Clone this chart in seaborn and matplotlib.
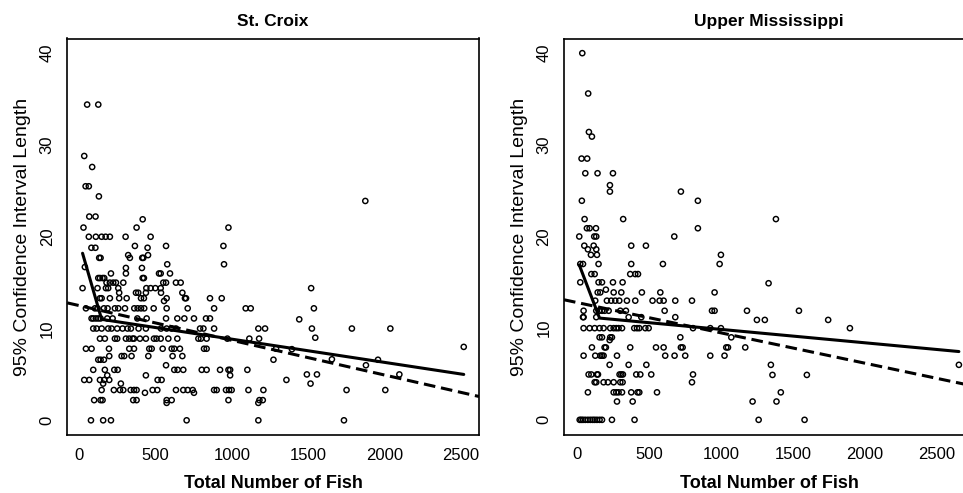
import matplotlib
matplotlib.use("Agg")
import matplotlib.pyplot as plt
import seaborn as sns
import pandas as pd

# ---------------- data ----------------
titles = ["St. Croix", "Upper Mississippi"]
x_label = "Total Number of Fish"
y_label = "95% Confidence Interval Length"
x_ticks = [0, 500, 1000, 1500, 2000, 2500]
y_ticks = [0, 10, 20, 30, 40]

sc_fish = [
    52, 125, 33, 85, 42, 63, 129, 66, 107, 416, 28, 376, 978, 1875,
    63, 109, 147, 173, 201, 304, 468,
    80, 106, 365, 448, 569, 945,
    131, 140, 321, 332, 413, 420, 451,
    577, 949,
    37, 306, 411,
    208, 306, 523, 534, 595,
    125, 136, 153, 164, 416, 424,
    179, 201, 223, 241, 289, 551, 569, 634, 665,
    22, 120, 175, 190, 256, 440, 468, 499, 534,
    262, 372, 387, 437, 536, 676,
    136, 147, 201, 262, 311, 405, 424, 556, 573, 693, 700, 857, 934,
    44, 103, 120, 162, 186, 234, 256, 300, 361, 383, 405, 426, 488, 573, 711, 884, 1091, 1124,
    81, 92, 109, 125, 140, 184, 219, 381, 442, 569, 643, 689, 752, 831, 857,
    92, 114, 147, 190, 212, 249, 284, 317, 339, 389, 437, 536, 573, 606, 634, 792, 814, 884, 1174, 1218,
    136, 168, 234, 249, 306, 328, 350, 359, 398, 437, 490, 507, 534, 584, 643, 781, 798, 835, 971, 1115, 1179,
    44, 81, 195, 328, 359, 459, 475, 547, 606, 623, 660, 818, 835, 1290,
    197, 278, 295, 343, 453, 612, 676,
    125, 140, 162, 1273,
    569,
    92, 168, 230, 252, 623, 645, 682, 803, 835, 923, 978, 989, 1102,
    184, 437, 989,
    33, 66, 136, 164, 197, 514, 540,
    157, 273,
    147, 227, 267, 289, 337, 359, 376, 481, 512, 634, 682, 711, 744, 884, 901, 962, 982, 999, 1109, 1207,
    431, 752,
    98, 140, 153, 354, 376, 573, 606, 978, 1181, 1203,
    573, 1174,
    77, 157, 208, 704, 1174,
    1520, 1538, 1442, 1525, 1787, 2039, 1547, 2520, 1394, 1656,
    1958, 1879, 1358, 1492, 1558, 1516, 2098, 1752, 2006, 1735,
]
sc_ci = [
    34.4, 34.4, 28.8, 27.6, 25.5, 25.5, 24.4, 22.2, 22.2, 21.9, 21.0, 21.0, 21.0, 23.9,
    20.0, 20.0, 20.0, 20.0, 20.0, 20.0, 20.0,
    18.8, 18.8, 19.0, 18.8, 19.0, 19.0,
    17.7, 17.7, 18.0, 17.7, 17.7, 17.7, 18.0,
    17.0, 17.0,
    16.7, 16.6, 16.6,
    16.0, 16.0, 16.0, 16.0, 16.0,
    15.5, 15.5, 15.5, 15.5, 15.5, 15.5,
    15.0, 15.0, 15.0, 15.0, 15.0, 15.0, 15.0, 15.0, 15.0,
    14.4, 14.4, 14.4, 14.4, 14.4, 14.4, 14.4, 14.4, 14.4,
    13.9, 13.9, 13.9, 13.9, 13.9, 13.9,
    13.3, 13.3, 13.3, 13.3, 13.3, 13.3, 13.3, 13.0, 13.3, 13.3, 13.3, 13.3, 13.3,
    12.2, 12.2, 12.2, 12.2, 12.2, 12.2, 12.2, 12.2, 12.2, 12.2, 12.2, 12.2, 12.2, 12.2, 12.2, 12.2, 12.2, 12.2,
    11.1, 11.1, 11.1, 11.1, 11.1, 11.1, 11.1, 11.1, 11.1, 11.1, 11.1, 11.1, 11.1, 11.1, 11.1,
    10.0, 10.0, 10.0, 10.0, 10.0, 10.0, 10.0, 10.0, 10.0, 10.0, 10.0, 10.0, 10.0, 10.0, 10.0, 10.0, 10.0, 10.0, 10.0, 10.0,
    8.9, 8.9, 8.9, 8.9, 8.9, 8.9, 8.9, 8.9, 8.9, 8.9, 8.9, 8.9, 8.9, 8.9, 8.9, 8.9, 8.9, 8.9, 8.9, 8.9, 8.9,
    7.8, 7.8, 7.8, 7.8, 7.8, 7.8, 7.8, 7.8, 7.8, 7.8, 7.8, 7.8, 7.8, 7.8,
    7.0, 7.0, 7.0, 7.0, 7.0, 7.0, 7.0,
    6.6, 6.6, 6.6, 6.6,
    6.0,
    5.5, 5.5, 5.5, 5.5, 5.5, 5.5, 5.5, 5.5, 5.5, 5.5, 5.5, 5.5, 5.5,
    4.9, 4.9, 4.9,
    4.4, 4.4, 4.4, 4.4, 4.4, 4.4, 4.4,
    4.0, 4.0,
    3.3, 3.3, 3.3, 3.3, 3.3, 3.3, 3.3, 3.3, 3.3, 3.3, 3.3, 3.3, 3.3, 3.3, 3.3, 3.3, 3.3, 3.3, 3.3, 3.3,
    3.0, 3.0,
    2.2, 2.2, 2.2, 2.2, 2.2, 2.2, 2.2, 2.2, 2.2, 2.2,
    1.9, 1.9,
    0.0, 0.0, 0.0, 0.0, 0.0,
    14.4, 12.2, 11.0, 10.0, 10.0, 10.0, 9.0, 8.0, 7.75, 6.65,
    6.6, 6.0, 4.4, 5.0, 5.0, 4.0, 5.0, 3.3, 3.3, 0.0,
]

um_fish = [
    37, 78, 83, 104, 32, 71, 58, 143, 250, 229, 229, 722, 34, 840, 53, 321, 69, 88, 132, 840,
    16, 120, 134, 676,
    51, 116, 377, 479,
    76, 134,
    97, 139, 1000,
    23, 42, 150, 377, 597, 991,
    100, 123, 370, 405, 424,
    23, 150, 174, 250, 317,
    201,
    144, 162, 255, 308, 451, 579, 956,
    127, 208, 238, 266, 294, 347, 405, 525, 574, 602, 683, 799,
    46, 134, 155, 174, 192, 220, 301, 340, 609, 938, 956, 1181,
    42, 46, 134, 359, 447, 683,
    1250,
    46, 88, 123, 157, 185, 231, 255, 273, 289, 313, 398, 417, 433, 475, 498, 806, 926, 1000,
    157, 174, 231, 243, 718, 1072,
    227,
    104, 192, 201, 370, 549, 602, 722, 734, 1037, 1049, 1169,
    46, 127, 162, 174, 185, 278, 613, 678, 752, 926, 1025,
    227, 359, 482,
    81, 100, 139, 146, 296, 308, 319, 412, 440, 516, 806,
    123, 134, 185, 215, 255, 301, 317, 799,
    76, 255, 273, 289, 313, 377, 421, 433, 556,
    278, 387, 1220,
    19, 30, 42, 58, 76, 93, 109, 123, 139, 157, 174, 243, 400, 1262,
    1382, 1331, 1542, 1305, 1745, 1896, 2653, 1347, 1358, 1597, 1416, 1386, 1581,
]
um_ci = [
    40.0, 35.6, 31.4, 30.9, 28.5, 28.5, 26.9, 26.9, 26.9, 25.6, 24.9, 24.9, 23.9, 23.9, 21.9, 21.9, 20.9, 20.9, 20.9, 20.9,
    20.0, 20.0, 20.0, 20.0,
    19.0, 19.0, 19.0, 19.0,
    18.6, 18.6,
    18.0, 18.0, 18.0,
    17.0, 17.0, 17.0, 17.0, 17.0, 17.0,
    15.9, 15.9, 15.9, 15.9, 15.9,
    15.0, 15.0, 15.0, 15.0, 15.0,
    14.2,
    13.9, 13.9, 13.9, 13.9, 13.9, 13.9, 13.9,
    13.0, 13.0, 13.0, 13.0, 13.0, 13.0, 13.0, 13.0, 13.0, 13.0, 13.0, 13.0,
    11.9, 11.9, 11.9, 11.9, 11.9, 11.9, 11.9, 11.9, 11.9, 11.9, 11.9, 11.9,
    11.2, 11.2, 11.2, 11.2, 11.2, 11.2,
    10.9,
    10.0, 10.0, 10.0, 10.0, 10.0, 10.0, 10.0, 10.0, 10.0, 10.0, 10.0, 10.0, 10.0, 10.0, 10.0, 10.0, 10.0, 10.0,
    9.0, 9.0, 9.0, 9.0, 9.0, 9.0,
    8.7,
    7.9, 7.9, 7.9, 7.9, 7.9, 7.9, 7.9, 7.9, 7.9, 7.9, 7.9,
    7.0, 7.0, 7.0, 7.0, 7.0, 7.0, 7.0, 7.0, 7.0, 7.0, 7.0,
    6.0, 6.0, 6.0,
    4.95, 4.95, 4.95, 4.95, 4.95, 4.95, 4.95, 4.95, 4.95, 4.95, 4.95,
    4.1, 4.1, 4.1, 4.1, 4.1, 4.1, 4.1, 4.1,
    3.0, 3.0, 3.0, 3.0, 3.0, 3.0, 3.0, 3.0, 3.0,
    2.0, 2.0, 2.0,
    0.0, 0.0, 0.0, 0.0, 0.0, 0.0, 0.0, 0.0, 0.0, 0.0, 0.0, 0.0, 0.0, 0.0,
    21.9, 14.9, 11.9, 10.9, 10.9, 10.0, 6.0, 6.0, 4.9, 4.9, 3.0, 2.0, 0.0,
]

# piecewise (solid) fit: knots
sc_fit_x = [22, 147, 2520]
sc_fit_y = [18.2, 11.0, 5.0]
um_fit_x = [16, 157, 2653]
um_fit_y = [16.9, 11.1, 7.45]
# simple linear fit (dashed): intercept, slope
sc_lm = [12.5, -0.00378]
um_lm = [12.8, -0.00331]

assert len(sc_fish) == len(sc_ci)
assert len(um_fish) == len(um_ci)

# ---------------- style ----------------
sns.set_style("white")
plt.rcParams["font.family"] = ["Liberation Sans", "DejaVu Sans"]
plt.rcParams["text.color"] = "black"
plt.rcParams["axes.labelcolor"] = "black"
plt.rcParams["xtick.color"] = "black"
plt.rcParams["ytick.color"] = "black"

fig = plt.figure(figsize=(9.63, 4.93), dpi=100)
W, H = 963.0, 493.0
ax1 = fig.add_axes([67.3 / W, (H - 435) / H, 411.7 / W, 396.5 / H])
ax2 = fig.add_axes([564 / W, (H - 434.5) / H, 410 / W, 396 / H])

panels = [
    (ax1, sc_fish, sc_ci, sc_fit_x, sc_fit_y, sc_lm, (-78, 2620)),
    (ax2, um_fish, um_ci, um_fit_x, um_fit_y, um_lm, (-90, 2758)),
]

for i, (ax, fx, cy, lx, ly, lm, xl) in enumerate(panels):
    df = pd.DataFrame({"fish": fx, "ci": cy})
    sns.scatterplot(data=df, x="fish", y="ci", ax=ax, marker="o", s=14,
                    facecolor="none", edgecolor="black", linewidth=1.05,
                    zorder=2)
    fit = pd.DataFrame({"fish": lx, "ci": ly})
    sns.lineplot(data=fit, x="fish", y="ci", ax=ax, color="black",
                 linewidth=2.2, sort=False, estimator=None, zorder=3)
    ax.axline((0, lm[0]), slope=lm[1], color="black", linewidth=2.2,
              linestyle=(0, (3.8, 1.9)), zorder=3)

    ax.set_xlim(*xl)
    ax.set_ylim(-1.6, 41.6)
    ax.set_xticks(x_ticks)
    ax.set_yticks(y_ticks)
    ax.tick_params(axis="both", direction="out", length=5, width=1.0,
                   labelsize=12, pad=4, color="black", labelcolor="black")
    ax.tick_params(axis="y", labelrotation=90)
    for t in ax.get_yticklabels():
        t.set_va("center")
    for sp in ax.spines.values():
        sp.set_visible(True)
        sp.set_color("black")
        sp.set_linewidth(1.2)

    ax.set_title(titles[i], fontsize=12.5, fontweight="bold", pad=9,
                 color="black")
    ax.set_xlabel(x_label, fontsize=13, fontweight="bold", color="black")
    ax.set_ylabel(y_label, fontsize=14, color="black")
    ax.xaxis.set_label_coords(0.5, -49 / 396.5)
    ax.xaxis.label.set_va("center")
    ax.yaxis.set_label_coords(-44.3 / (411.7 if i == 0 else 410), 0.5)
    ax.yaxis.label.set_va("center")
    ax.grid(False)

fig.savefig("out.png", dpi=100, facecolor="white")
